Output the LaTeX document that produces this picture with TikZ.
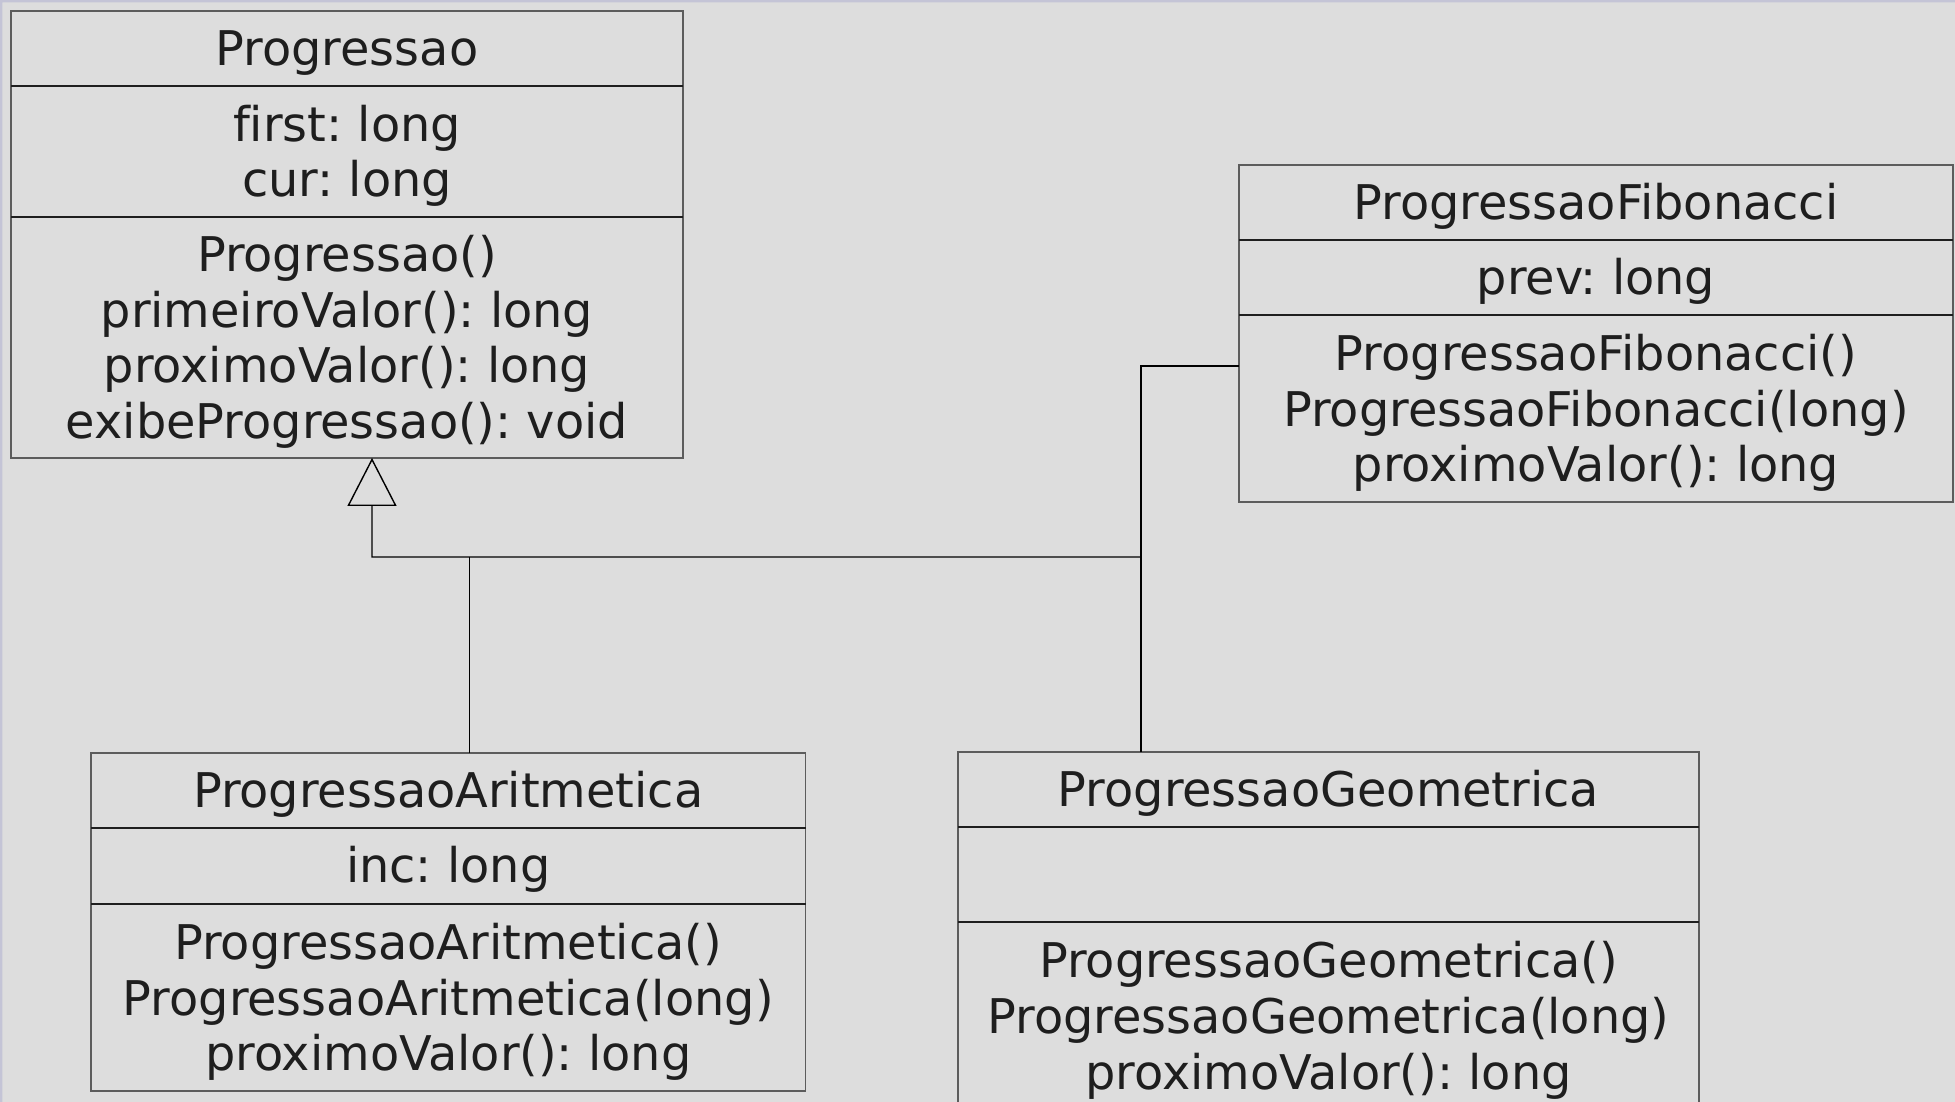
\documentclass[tikz,border=0pt]{standalone}
\usepackage{fontspec}
\setmainfont[Ligatures=NoCommon]{DejaVu Sans}
\usetikzlibrary{arrows.meta,positioning}
\definecolor{canvas}{HTML}{DDDDDD}
\definecolor{rim}{HTML}{C4C4D6}
\definecolor{boxline}{HTML}{5C5C5C}
\definecolor{ink}{HTML}{1E1E1E}
\newcommand\rowstrut{\rule[-.236em]{0pt}{1.164em}}
\tikzset{
 compart/.style n args={2}{draw=boxline,line width=.55pt,minimum width=#1,minimum height=#2,
   inner sep=0pt,outer sep=0pt,align=center,text=ink,font=\fontsize{13.6}{15.8}\selectfont,
   execute at begin node=\rowstrut,execute at end node=\rowstrut},
 multi/.style={text depth=.37pt},
 sep/.style={draw=ink,line width=.6pt},
 link/.style={draw=black,line width=.4pt},
 gen/.style={link,-{Triangle[open,length=4.8mm,width=4.9mm,line width=.4pt]}}
}

\begin{document}
\frenchspacing
\begin{tikzpicture}[x=.1mm,y=-.1mm]
 \useasboundingbox (0,0) rectangle (1955,1102);
 \clip (0,0) rectangle (1955,1102);
 \fill[canvas] (0,0) rectangle (1955,1102);
 \fill[rim] (0,0) rectangle (1955,2.5) (0,0) rectangle (2.5,1102);
 % superclass
 \node[compart={67.2mm}{7.5mm},anchor=north west] (prog) at (11,11) {Progressao};
 \node[compart={67.2mm}{13.1mm},multi,below=0pt of prog] (prog-attr) {first: long\\cur: long};
 \node[compart={67.2mm}{24.1mm},multi,below=0pt of prog-attr] (prog-ops) {Progressao()\\primeiroValor(): long\\proximoValor(): long\\exibeProgressao(): void};
 % subclasses
 \node[compart={71.4mm}{7.5mm},anchor=north west] (fibo) at (1239,165) {ProgressaoFibonacci};
 \node[compart={71.4mm}{7.5mm},below=0pt of fibo] (fibo-attr) {prev: long};
 \node[compart={71.4mm}{18.7mm},multi,below=0pt of fibo-attr] (fibo-ops) {ProgressaoFibonacci()\\ProgressaoFibonacci(long)\\proximoValor(): long};
 \node[compart={71.45mm}{7.5mm},anchor=north west] (arit) at (91,753) {ProgressaoAritmetica};
 \node[compart={71.45mm}{7.6mm},below=0pt of arit] (arit-attr) {inc: long};
 \node[compart={71.45mm}{18.7mm},multi,below=0pt of arit-attr] (arit-ops) {ProgressaoAritmetica()\\ProgressaoAritmetica(long)\\proximoValor(): long};
 \node[compart={74.1mm}{7.5mm},anchor=north west] (geo) at (958,752) {ProgressaoGeometrica};
 \node[compart={74.1mm}{9.5mm},below=0pt of geo] (geo-attr) {};
 \node[compart={74.1mm}{18.8mm},multi,below=0pt of geo-attr] (geo-ops) {ProgressaoGeometrica()\\ProgressaoGeometrica(long)\\proximoValor(): long};
 % compartment rules
 \foreach \c in {prog,prog-attr,fibo,fibo-attr,arit,arit-attr,geo,geo-attr}
  \draw[sep] (\c.south west) -- (\c.south east);
 % inheritance
 \coordinate (apex) at ([xshift=2.5mm]prog-ops.south);
 \coordinate (bus) at (372,557);
 \coordinate (arit-in) at ([xshift=2.1mm]arit.north);
 \coordinate (geo-in) at ([xshift=-18.75mm]geo.north);
 \coordinate (fibo-in) at ([yshift=4.25mm]fibo-ops.west);
 \draw[link] (arit-in) -- (arit-in |- bus);
 \draw[link] (geo-in) -- (geo-in |- fibo-in) -- (fibo-in);
 \draw[gen] (geo-in |- bus) -- (bus) -- (apex);
\end{tikzpicture}
\end{document}
